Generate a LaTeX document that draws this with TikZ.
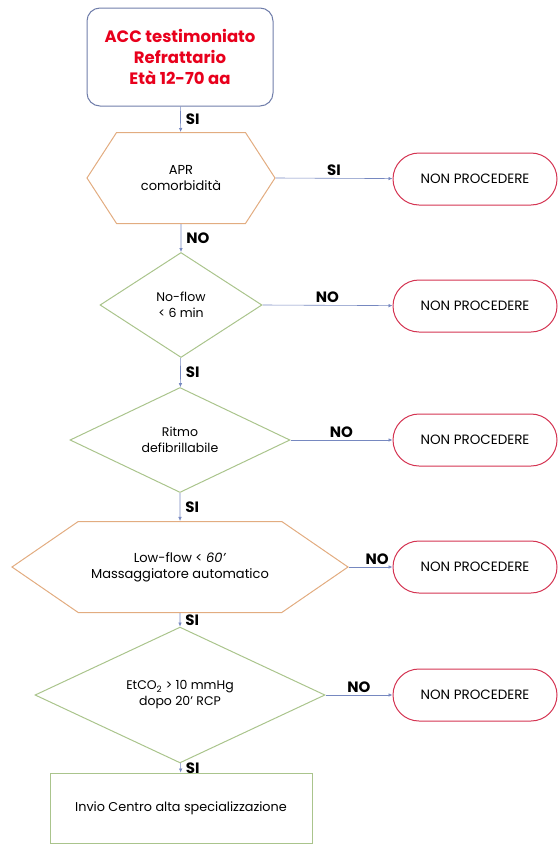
\documentclass[tikz,border=0pt]{standalone}
\usepackage{fontspec}
\setmainfont{Poppins}
\usetikzlibrary{arrows.meta,positioning,shapes.geometric,shapes.symbols}
\definecolor{flowblue}{RGB}{118,136,192}
\definecolor{startblue}{RGB}{112,126,170}
\definecolor{alertred}{RGB}{232,0,28}
\definecolor{hexorange}{RGB}{226,172,128}
\definecolor{choicegreen}{RGB}{170,196,140}
\definecolor{stopred}{RGB}{212,52,82}
\tikzset{
  startbox/.style = {rectangle, rounded corners=13pt, draw=startblue, line width=1pt, align=center, text=alertred, font=\fontsize{16.5}{21}\selectfont\bfseries},
  hexbox/.style = {signal, signal to=east and west, draw=hexorange, line width=1pt, align=center, font=\fontsize{13}{16}\selectfont},
  choice/.style = {diamond, draw=choicegreen, line width=1pt, align=center, inner sep=0pt, font=\fontsize{12.5}{16}\selectfont},
  stopbox/.style = {rectangle, rounded corners=26pt, draw=stopred, line width=1pt, minimum width=164pt, minimum height=52pt, font=\fontsize{13.5}{14}\selectfont},
  endbox/.style = {rectangle, draw=choicegreen, line width=1pt, font=\fontsize{12.8}{14}\selectfont},
  flow/.style = {-{Latex[length=4pt,width=3.5pt]}, draw=flowblue, line width=0.6pt},
  answer/.style = {font=\fontsize{15}{15}\selectfont\bfseries, inner sep=2pt},
}
\begin{document}
\begin{tikzpicture}[x=1pt, y=-1pt]
\useasboundingbox (0,0) rectangle (558,846);

% main column
\node[startbox, minimum width=186pt, minimum height=98pt] (start) at (180,57) {ACC testimoniato\\Refrattario\\Età 12-70 aa};
\node[hexbox, minimum width=188pt, minimum height=91pt, signal pointer angle=114] (apr) at (181,178) {APR\\comorbidità};
\node[choice, minimum width=162pt, minimum height=105pt] (noflow) at (181,305) {No-flow\\< 6 min};
\node[choice, minimum width=220pt, minimum height=105pt] (ritmo) at (180,440) {Ritmo\\defibrillabile};
\node[hexbox, minimum width=336pt, minimum height=91pt, signal pointer angle=69] (lowflow) at (180,567) {Low-flow < \textit{60'}\\Massaggiatore automatico};
\node[choice, minimum width=290pt, minimum height=104pt] (etco) at (180,695) {EtCO\textsubscript{2} > 10 mmHg\\dopo 20' RCP};
\node[endbox, minimum width=262pt, minimum height=70pt] (invio) at (181,808) {Invio Centro alta specializzazione};

% stop boxes
\node[stopbox] (stop1) at (475,179) {NON PROCEDERE};
\node[stopbox] (stop2) at (475,306) {NON PROCEDERE};
\node[stopbox] (stop3) at (475,440) {NON PROCEDERE};
\node[stopbox] (stop4) at (475,567) {NON PROCEDERE};
\node[stopbox] (stop5) at (475,695) {NON PROCEDERE};

% down
\draw[flow] (start) -- node[answer, right, xshift=3pt] (a1) {SI} (apr);
\draw[flow] (apr) -- node[answer, right, xshift=3pt] (a2) {NO} (noflow);
\draw[flow] (noflow) -- node[answer, right, xshift=3pt] (a3) {SI} (ritmo);
\draw[flow] (ritmo) -- node[answer, right, xshift=3pt] (a4) {SI} (lowflow);
\draw[flow] (lowflow) -- node[answer, right, xshift=3pt] (a5) {SI} (etco);
\draw[flow] (etco) -- node[answer, right, xshift=3pt] (a6) {SI} (invio);

% right
\draw[flow] (apr.east) -- node[answer, above] (b1) {SI} (stop1);
\draw[flow] (noflow.east) -- node[answer, above] (b2) {NO} (stop2);
\draw[flow] (ritmo.east) -- node[answer, above] (b3) {NO} (stop3);
\draw[flow] (lowflow.east) -- node[answer, above, pos=0.65] (b4) {NO} (stop4);
\draw[flow] (etco.east) -- node[answer, above] (b5) {NO} (stop5);

\end{tikzpicture}
\end{document}
